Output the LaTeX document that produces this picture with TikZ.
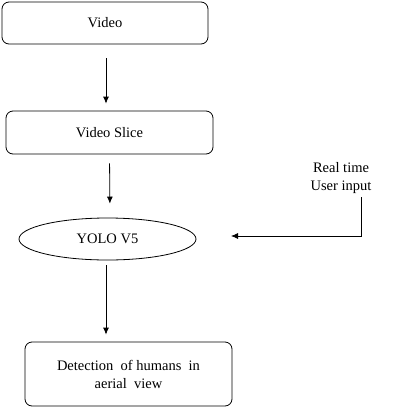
\documentclass[tikz,border=0pt]{standalone}
\usepackage{fontspec}
\setmainfont{Liberation Serif}
\usetikzlibrary{arrows.meta,shapes.geometric}

\tikzset{
   stepbox/.style={draw, rounded corners=7pt, line width=0.8pt, align=center, font=\fontsize{14.5}{18}\selectfont},
   flow/.style={-{Latex[length=7pt,width=6pt]}, line width=0.8pt}
}

\begin{document}
\begin{tikzpicture}[x=1pt,y=-1pt]
   \useasboundingbox (0,0) rectangle (403,408);
   \node[stepbox, minimum width=206pt, minimum height=42pt] (video) at (105,23) {Video};
   \node[stepbox, minimum width=207pt, minimum height=43pt] (slice) at (109.5,132.5) {Video Slice};
   \node[draw, ellipse, line width=0.8pt, minimum width=177pt, minimum height=42pt, font=\fontsize{14.5}{18}\selectfont] (yolo) at (107.5,239) {YOLO V5};
   \node[stepbox, minimum width=207pt, minimum height=64pt] (detect) at (128.5,374) {Detection~ of humans~ in\\aerial~ view};
   \node[align=center, font=\fontsize{14.5}{18}\selectfont] (user) at (341,178) {Real time\\User input};
   \coordinate (bend) at (361,236);
   \coordinate (tip) at (231,236);
   \draw[flow, shorten <=14pt, shorten >=7pt] ([xshift=1pt]video.south) -- ([xshift=-3.5pt]slice.north);
   \draw[flow, shorten <=9pt, shorten >=14pt] (slice.south) -- ([xshift=2.5pt]yolo.north);
   \draw[flow, shorten <=5pt, shorten >=7pt] ([xshift=-1.5pt]yolo.south) -- ([xshift=-22.5pt]detect.north);
   \draw[flow] (user.south -| bend) -- (bend) -- (tip);
\end{tikzpicture}
\end{document}
